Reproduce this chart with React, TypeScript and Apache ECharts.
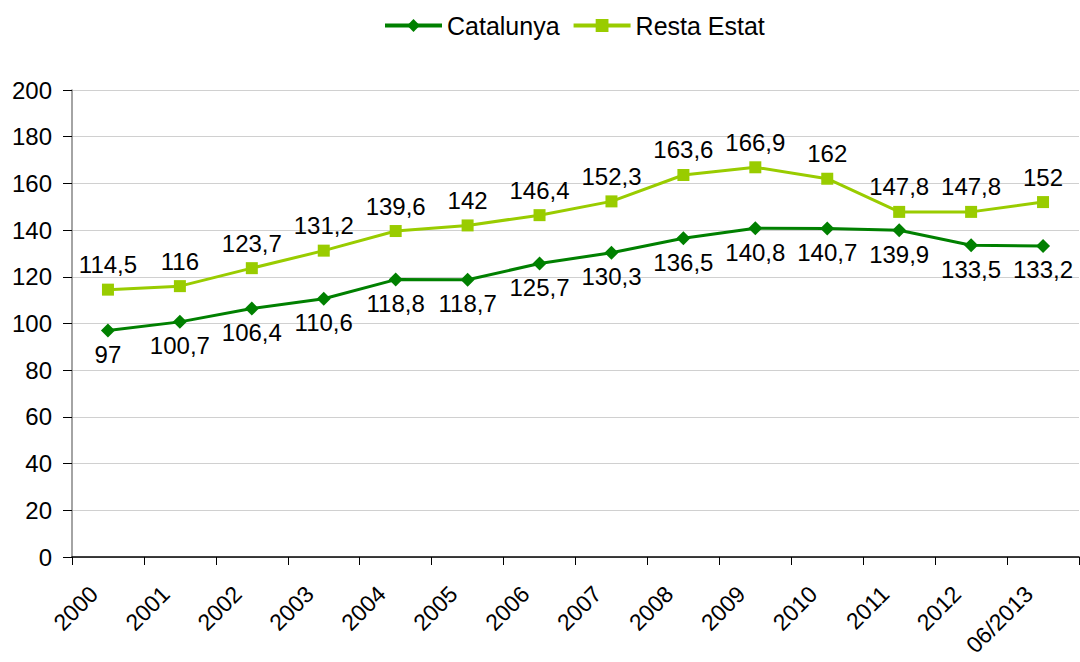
import React, { useEffect, useRef } from "react";
import * as echarts from "echarts";

const categories = ["2000", "2001", "2002", "2003", "2004", "2005", "2006", "2007", "2008", "2009", "2010", "2011", "2012", "06/2013"];
const catalunya = [97, 100.7, 106.4, 110.6, 118.8, 118.7, 125.7, 130.3, 136.5, 140.8, 140.7, 139.9, 133.5, 133.2];
const restaEstat = [114.5, 116, 123.7, 131.2, 139.6, 142, 146.4, 152.3, 163.6, 166.9, 162, 147.8, 147.8, 152];

const FONT = "'Liberation Sans', Arial, sans-serif";
const fmt = (p: any) => String(p.value).replace(".", ",");

export default function App() {
  const ref = useRef<HTMLDivElement>(null);
  useEffect(() => {
    const chart = echarts.init(ref.current!, undefined, { renderer: "svg" });
    chart.setOption({
      animation: false,
      textStyle: { fontFamily: FONT },
      legend: {
        top: 8,
        left: 378,
        itemWidth: 57,
        itemHeight: 16,
        itemGap: 12,
        lineStyle: { width: 4 },
        textStyle: { fontSize: 25, color: "#000", fontFamily: FONT },
        data: ["Catalunya", "Resta Estat"],
      },
      grid: { left: 72, right: 1, top: 90, bottom: 105, containLabel: false },
      xAxis: {
        type: "category",
        data: categories,
        boundaryGap: true,
        axisLine: { lineStyle: { color: "#000", width: 1.5 } },
        axisTick: { show: true, alignWithLabel: false, length: 8, lineStyle: { color: "#000" } },
        axisLabel: {
          rotate: 45,
          interval: 0,
          fontSize: 23,
          color: "#000",
          margin: 19,
          padding: [0, 20, 0, 0],
          fontFamily: FONT,
        },
      },
      yAxis: {
        type: "value",
        min: 0,
        max: 200,
        interval: 20,
        axisLine: { show: true, lineStyle: { color: "#868686", width: 1.5 } },
        axisTick: { show: true, length: 9, lineStyle: { color: "#000" } },
        axisLabel: { fontSize: 24, color: "#000", margin: 20, fontFamily: FONT },
        splitLine: { lineStyle: { color: "#d0d0d0", width: 1 } },
      },
      series: [
        {
          name: "Catalunya",
          type: "line",
          data: catalunya,
          symbol: "diamond",
          symbolSize: 14,
          lineStyle: { color: "#008000", width: 3 },
          itemStyle: { color: "#008000" },
          label: { show: true, position: "bottom", distance: 5, fontSize: 24, color: "#000", formatter: fmt, fontFamily: FONT },
        },
        {
          name: "Resta Estat",
          type: "line",
          data: restaEstat,
          symbol: "rect",
          symbolSize: 12,
          lineStyle: { color: "#99cc00", width: 3 },
          itemStyle: { color: "#99cc00" },
          label: { show: true, position: "top", distance: 7, fontSize: 24, color: "#000", formatter: fmt, fontFamily: FONT },
        },
      ],
    });
    return () => chart.dispose();
  }, []);
  return (
    <div
      ref={ref}
      style={{ position: "fixed", left: 0, top: 0, width: 1080, height: 662, background: "#fff" }}
    />
  );
}
